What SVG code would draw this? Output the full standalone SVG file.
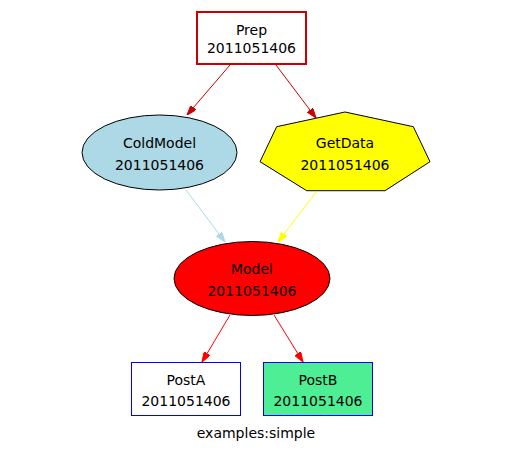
<svg xmlns="http://www.w3.org/2000/svg" width="512" height="460" viewBox="0 0 512 460">
<defs>
<style>
text{font-family:"DejaVu Sans",Verdana,sans-serif;font-size:14px;text-anchor:middle;fill:#000}
.e{fill:none;stroke-width:1}
</style>
<marker id="aR" viewBox="0 0 10 7" refX="10" refY="3.5" markerWidth="10" markerHeight="7" markerUnits="userSpaceOnUse" orient="auto"><path d="M0,0L10,3.5L0,7z" fill="#cc0000" stroke="#cc0000"/></marker>
<marker id="aB" viewBox="0 0 10 7" refX="10" refY="3.5" markerWidth="10" markerHeight="7" markerUnits="userSpaceOnUse" orient="auto"><path d="M0,0L10,3.5L0,7z" fill="#add8e6" stroke="#add8e6"/></marker>
<marker id="aY" viewBox="0 0 10 7" refX="10" refY="3.5" markerWidth="10" markerHeight="7" markerUnits="userSpaceOnUse" orient="auto"><path d="M0,0L10,3.5L0,7z" fill="#ffff00" stroke="#ffff00"/></marker>
<marker id="aF" viewBox="0 0 10 7" refX="10" refY="3.5" markerWidth="10" markerHeight="7" markerUnits="userSpaceOnUse" orient="auto"><path d="M0,0L10,3.5L0,7z" fill="#ff0000" stroke="#ff0000"/></marker>
</defs>
<rect width="512" height="460" fill="#fff"/>
<g id="edges">
<path class="e" d="M230,65L187,115" stroke="#cc0000" marker-end="url(#aR)"/>
<path class="e" d="M276,65L316,118" stroke="#cc0000" marker-end="url(#aR)"/>
<path class="e" d="M186,190L225,242" stroke="#add8e6" marker-end="url(#aB)"/>
<path class="e" d="M316,192L278,242" stroke="#ffff00" marker-end="url(#aY)"/>
<path class="e" d="M230,315L202,362" stroke="#ff0000" marker-end="url(#aF)"/>
<path class="e" d="M274,315L303,362" stroke="#ff0000" marker-end="url(#aF)"/>
</g>
<g id="Prep">
<rect x="197" y="12" width="109" height="52" fill="#fff" stroke="#cc0000" stroke-width="2"/>
<text x="251.5" y="35">Prep</text>
<text x="251.5" y="53">2011051406</text>
</g>
<g id="ColdModel">
<ellipse cx="159.5" cy="152.5" rx="77.5" ry="37.5" fill="#add8e6" stroke="#000"/>
<text x="159.5" y="148">ColdModel</text>
<text x="159.5" y="170">2011051406</text>
</g>
<g id="GetData">
<polygon points="345,112 413.3,126.7 430,161.7 385,190.7 306.7,190.7 260,161.7 276.7,126.7" fill="#ffff00" stroke="#000"/>
<text x="345" y="148">GetData</text>
<text x="345" y="170">2011051406</text>
</g>
<g id="Model">
<ellipse cx="252" cy="278.5" rx="78" ry="37" fill="#ff0000" stroke="#000"/>
<text x="252" y="274">Model</text>
<text x="252" y="296">2011051406</text>
</g>
<g id="PostA">
<rect x="131.5" y="362.5" width="109" height="53" fill="#fff" stroke="#0000ff"/>
<text x="186" y="385">PostA</text>
<text x="186" y="406">2011051406</text>
</g>
<g id="PostB">
<rect x="263.5" y="362.5" width="109" height="53" fill="#4eee94" stroke="#0000ff"/>
<text x="318" y="385">PostB</text>
<text x="318" y="406">2011051406</text>
</g>
<text x="256" y="438">examples:simple</text>
</svg>
